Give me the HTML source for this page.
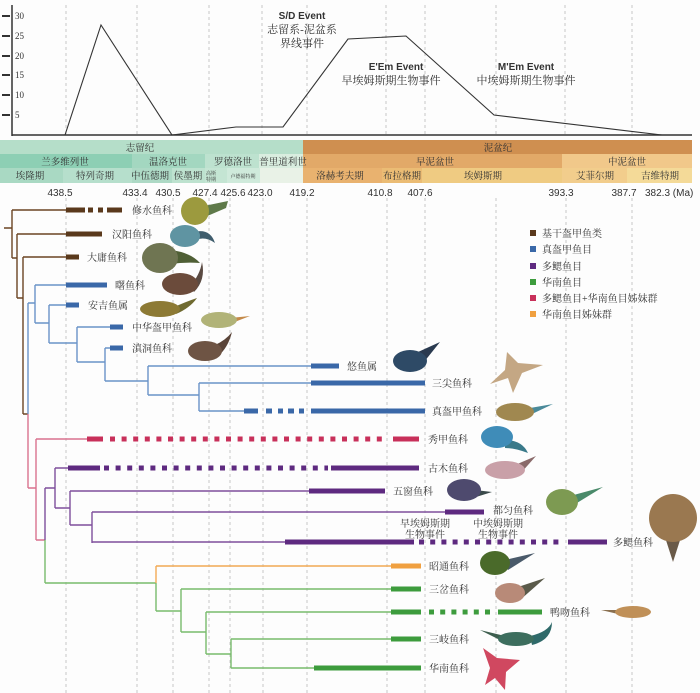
<!DOCTYPE html>
<html><head><meta charset="utf-8"><style>
html,body{margin:0;padding:0;background:#fff;}
svg{display:block;}
.cj{font-family:"Liberation Serif","Noto Serif CJK SC",serif;fill:#333;}
.sn{font-family:"Liberation Sans","Noto Sans CJK SC",sans-serif;fill:#333;}
</style></head><body>
<svg width="700" height="693" viewBox="0 0 700 693" xmlns="http://www.w3.org/2000/svg">
<rect width="700" height="693" fill="#fdfdfd"/>
<!-- top chart dashed verticals -->
<g stroke="#c8c8c8" stroke-width="1" stroke-dasharray="3,3">
<path d="M66,5V135M137,5V135M209,5V135M262,5V135M307,5V135M386,5V135M425,5V135M496,5V135M565,5V135M632,5V135"/>
</g>
<!-- tree dashed verticals -->
<g stroke="#c8c8c8" stroke-width="1" stroke-dasharray="3,3">
<path d="M66,198V693M137,198V693M173,198V693M209,198V693M230,198V693M263,198V693M307,198V693M387,198V693M425,198V693M496,198V693M566,198V693M632,198V693"/>
</g>
<!-- axis -->
<path d="M12,5V136M12,135H692" stroke="#333" stroke-width="1.5" fill="none"/>
<g stroke="#333" stroke-width="2">
<path d="M2,16H10M2,36H10M2,56H10M2,75H10M2,95H10M2,115H10"/>
</g>
<g class="cj" font-size="9">
<text x="15" y="19">30</text><text x="15" y="39">25</text><text x="15" y="59">20</text>
<text x="15" y="78">15</text><text x="15" y="98">10</text><text x="15" y="118">5</text>
</g>
<polyline points="65,135 101,25 172,135 236,127 283,127 348,39 406,36 494,115 662,135" fill="none" stroke="#333" stroke-width="1.1"/>
<text class="sn" x="302" y="19" font-size="10" font-weight="bold" text-anchor="middle">S/D Event</text>
<text class="cj" x="302" y="33" font-size="11" text-anchor="middle" fill="#444">志留系-泥盆系</text>
<text class="cj" x="302" y="47" font-size="11" text-anchor="middle" fill="#444">界线事件</text>
<text class="sn" x="396" y="70" font-size="10" font-weight="bold" text-anchor="middle">E'Em Event</text>
<text class="cj" x="391" y="84" font-size="11" text-anchor="middle" fill="#444">早埃姆斯期生物事件</text>
<text class="sn" x="526" y="70" font-size="10" font-weight="bold" text-anchor="middle">M'Em Event</text>
<text class="cj" x="526" y="84" font-size="11" text-anchor="middle" fill="#444">中埃姆斯期生物事件</text>

<!-- timescale band -->
<rect x="0" y="140" width="303" height="14" fill="#b5dec9"/>
<rect x="303" y="140" width="389" height="14" fill="#cf8f50"/>
<rect x="0" y="154" width="132" height="14" fill="#8dcfb4"/>
<rect x="132" y="154" width="73" height="14" fill="#a3d7c0"/>
<rect x="205" y="154" width="54" height="14" fill="#bde2cf"/>
<rect x="259" y="154" width="44" height="14" fill="#d9eddf"/>
<rect x="303" y="154" width="259" height="14" fill="#e2a968"/>
<rect x="562" y="154" width="130" height="14" fill="#f1c88a"/>
<rect x="0" y="168" width="63" height="15" fill="#a9d9c3"/>
<rect x="63" y="168" width="69" height="15" fill="#b6dfcc"/>
<rect x="132" y="168" width="40" height="15" fill="#add9c5"/>
<rect x="172" y="168" width="33" height="15" fill="#bde2cf"/>
<rect x="205" y="168" width="22" height="15" fill="#c4e5d3"/>
<rect x="227" y="168" width="33" height="15" fill="#cfeadb"/>
<rect x="260" y="168" width="43" height="15" fill="#e9f2e7"/>
<rect x="303" y="168" width="79" height="15" fill="#e9b26f"/>
<rect x="382" y="168" width="40" height="15" fill="#ebbc74"/>
<rect x="422" y="168" width="140" height="15" fill="#efcb82"/>
<rect x="562" y="168" width="65" height="15" fill="#f2cd8c"/>
<rect x="627" y="168" width="65" height="15" fill="#f4da98"/>
<g class="cj" font-size="9.5" text-anchor="middle" fill="#4a4a4a">
<text x="140" y="151">志留纪</text><text x="498" y="151">泥盆纪</text>
<text x="65" y="165">兰多维列世</text><text x="168" y="165">温洛克世</text>
<text x="233" y="165">罗德洛世</text><text x="283" y="165">普里道利世</text>
<text x="435" y="165">早泥盆世</text><text x="627" y="165">中泥盆世</text>
<text x="30" y="179">埃隆期</text><text x="95" y="179">特列奇期</text>
<text x="150" y="179">中伍德期</text><text x="188" y="179">侯墨期</text>
<text x="340" y="179">洛赫考夫期</text><text x="402" y="179">布拉格期</text>
<text x="483" y="179">埃姆斯期</text><text x="595" y="179">艾菲尔期</text>
<text x="660" y="179">吉维特期</text>
</g>
<g class="cj" font-size="5" fill="#4a4a4a" text-anchor="middle">
<text x="211" y="175">高斯</text><text x="211" y="181">特期</text>
<text x="243" y="178">卢德福特期</text>
</g>
<g class="sn" font-size="10" text-anchor="middle">
<text x="60" y="196">438.5</text><text x="135" y="196">433.4</text>
<text x="168" y="196">430.5</text><text x="205" y="196">427.4</text>
<text x="233" y="196">425.6</text><text x="260" y="196">423.0</text>
<text x="302" y="196">419.2</text><text x="380" y="196">410.8</text>
<text x="420" y="196">407.6</text><text x="561" y="196">393.3</text>
<text x="624" y="196">387.7</text>
<text x="645" y="196" text-anchor="start">382.3 (Ma)</text>
</g>

<!-- tree thin lines -->
<g fill="none" stroke-width="1.4">
<path stroke="#6b4423" d="M4,228H12M12,210V258M12,210H66M12,258H17M17,234V298M17,234H66M17,298H23M23,257V414M23,257H66M23,414H28"/>
<path stroke="#6a93c8" d="M28,303V414M28,303H35M35,285V323M35,285H66M35,323H49M49,305V343M49,305H66M49,343H77M77,327V362M77,327H110M77,362H105M105,348V381M105,348H110M105,381H148M148,366V395M148,366H311M148,395H199M199,383V411M199,383H311M199,411H244"/>
<path stroke="#d9728e" d="M28,414V488M28,488H36M36,439V540M36,439H87M36,540H45"/>
<path stroke="#7e4f9c" d="M45,488V540M45,488H55M55,468V508M55,468H68M55,508H70M70,491V525M70,491H309M70,525H92M92,512V543M92,512H445M92,542H285"/>
<path stroke="#78bb6c" d="M45,540V583M45,583H156M156,583V611M156,611H181M181,589V632M181,589H391M181,632H206M206,612V654M206,612H391M206,654H231M231,639V668M231,639H391M231,668H314"/>
<path stroke="#f2aa55" d="M156,566V583M156,566H391"/>
</g>
<!-- thick bars -->
<g stroke-width="5" fill="none">
<g stroke="#5a391c">
<path d="M66,210H85M88,210H93M98,210H103M107,210H122M66,234H102M66,257H79"/>
</g>
<g stroke="#3a68a8">
<path d="M66,285H107M66,305H79M110,327H123M110,348H123M311,366H339M311,383H425M244,411H258M266,411H272M278,411H283M288,411H294M299,411H304M311,411H425"/>
</g>
<g stroke="#c8305a">
<path d="M87,439H103M393,439H419"/>
<path d="M110,439H388" stroke-dasharray="5,6.6"/>
</g>
<g stroke="#5e2a80">
<path d="M68,468H100M331,468H419M309,491H385M445,512H484M285,542H414M568,542H607"/>
<path d="M104,468H328" stroke-dasharray="5,6.6"/>
<path d="M419,542H563" stroke-dasharray="5,6.2"/>
</g>
<g stroke="#f0a040"><path d="M391,566H421"/></g>
<g stroke="#3d9c3d">
<path d="M391,589H421M391,612H421M498,612H542M391,639H421M314,668H421"/>
<path d="M429,612H491" stroke-dasharray="5,6.2"/>
</g>
</g>

<!-- labels -->
<g class="cj" font-size="10">
<text x="132" y="214">修水鱼科</text>
<text x="112" y="238">汉阳鱼科</text>
<text x="87" y="261">大庸鱼科</text>
<text x="115" y="289">曙鱼科</text>
<text x="88" y="309">安吉鱼属</text>
<text x="132" y="331">中华盔甲鱼科</text>
<text x="132" y="352">滇洞鱼科</text>
<text x="347" y="370">悠鱼属</text>
<text x="432" y="387">三尖鱼科</text>
<text x="432" y="415">真盔甲鱼科</text>
<text x="428" y="443">秀甲鱼科</text>
<text x="428" y="472">古木鱼科</text>
<text x="393" y="495">五窗鱼科</text>
<text x="493" y="514">都匀鱼科</text>
<text x="613" y="546">多鳃鱼科</text>
<text x="429" y="570">昭通鱼科</text>
<text x="429" y="593">三岔鱼科</text>
<text x="550" y="616">鸭吻鱼科</text>
<text x="429" y="643">三岐鱼科</text>
<text x="429" y="672">华南鱼科</text>
</g>
<g class="cj" font-size="10" text-anchor="middle">
<text x="425" y="527">早埃姆斯期</text><text x="425" y="538">生物事件</text>
<text x="498" y="527">中埃姆斯期</text><text x="498" y="538">生物事件</text>
</g>

<!-- legend -->
<rect x="530" y="230" width="6" height="6" fill="#5a391c"/>
<rect x="530" y="246" width="6" height="6" fill="#3a68a8"/>
<rect x="530" y="263" width="6" height="6" fill="#5e2a80"/>
<rect x="530" y="279" width="6" height="6" fill="#3d9c3d"/>
<rect x="530" y="295" width="6" height="6" fill="#c8305a"/>
<rect x="530" y="311" width="6" height="6" fill="#f0a040"/>
<g class="cj" font-size="10">
<text x="542" y="237">基干盔甲鱼类</text>
<text x="542" y="253">真盔甲鱼目</text>
<text x="542" y="270">多鳃鱼目</text>
<text x="542" y="286">华南鱼目</text>
<text x="542" y="302">多鳃鱼目+华南鱼目姊妹群</text>
<text x="542" y="318">华南鱼目姊妹群</text>
</g>

<!-- fish illustrations (approximate) -->
<g>
<polygon points="204,206 228,201 226,208 205,217" fill="#5f7a4a"/>
<circle cx="195" cy="211" r="14" fill="#9c9a3e"/>
<path d="M194,232 Q210,228 215,243 Q205,236 196,240Z" fill="#3f5d6d"/>
<ellipse cx="185" cy="236" rx="15" ry="11" fill="#5f94a2"/>
<path d="M170,250 Q190,252 200,263 Q185,262 170,264Z" fill="#4f5f35"/>
<ellipse cx="160" cy="258" rx="18" ry="15" fill="#6f7552"/>
<path d="M190,286 Q200,275 202,262 Q206,280 194,292Z" fill="#5a4a42"/>
<ellipse cx="180" cy="284" rx="18" ry="11" fill="#6b4b3b"/>
<path d="M172,308 Q185,302 197,298 Q190,308 176,314Z" fill="#6f6a30"/>
<ellipse cx="160" cy="309" rx="20" ry="8" fill="#8d7a35"/>
<path d="M230,318 L250,316 L232,323Z" fill="#c48a4a"/>
<ellipse cx="219" cy="320" rx="18" ry="8" fill="#b1b378"/>
<path d="M215,345 Q226,340 232,332 Q228,348 218,356Z" fill="#5a4438"/>
<ellipse cx="205" cy="351" rx="17" ry="10" fill="#6e5444"/>
<path d="M418,352 L440,342 L424,362Z" fill="#2a3a50"/>
<ellipse cx="410" cy="361" rx="17" ry="11" fill="#2e4a66"/>
<polygon points="507,352 518,363 543,365 522,373 513,393 508,378 490,384 505,370" fill="#c4a784"/>
<path d="M530,408 L553,404 L532,414Z" fill="#4a8a9a"/>
<ellipse cx="515" cy="412" rx="19" ry="9" fill="#a08850"/>
<path d="M505,440 Q522,440 528,453 Q515,448 505,448Z" fill="#3a7a8a"/>
<ellipse cx="497" cy="437" rx="16" ry="11" fill="#3f8cb8"/>
<path d="M515,465 L536,456 L520,474Z" fill="#8a6a6a"/>
<ellipse cx="505" cy="470" rx="20" ry="9" fill="#c9a0a8"/>
<path d="M475,490 L492,492 L476,497Z" fill="#3a4a4a"/>
<ellipse cx="464" cy="490" rx="17" ry="11" fill="#4e4a6e"/>
<path d="M570,496 L603,487 L572,506Z" fill="#4a8a6a"/>
<ellipse cx="562" cy="502" rx="16" ry="13" fill="#7d9a52"/>
<polygon points="664,534 682,534 673,562" fill="#6a5a48"/>
<circle cx="673" cy="518" r="24" fill="#9a7850"/>
<path d="M505,560 L535,553 L508,570Z" fill="#4a5a6a"/>
<ellipse cx="495" cy="563" rx="15" ry="12" fill="#4a6a2a"/>
<path d="M515,588 L545,578 L520,600Z" fill="#5a5a4a"/>
<ellipse cx="510" cy="593" rx="15" ry="10" fill="#b88a78"/>
<path d="M601,610 L620,610 L618,614Z" fill="#8a7050"/>
<ellipse cx="633" cy="612" rx="18" ry="6" fill="#c09058"/>
<path d="M530,636 Q548,632 552,622 Q552,640 532,645Z" fill="#2f6a6a"/>
<path d="M480,630 L505,636 L500,640Z" fill="#3d5e4e"/>
<ellipse cx="516" cy="639" rx="18" ry="7" fill="#3d6e5e"/>
<polygon points="483,648 497,658 520,660 506,672 505,690 495,678 485,685 490,668" fill="#d04860"/>
</g>
</svg>
</body></html>
